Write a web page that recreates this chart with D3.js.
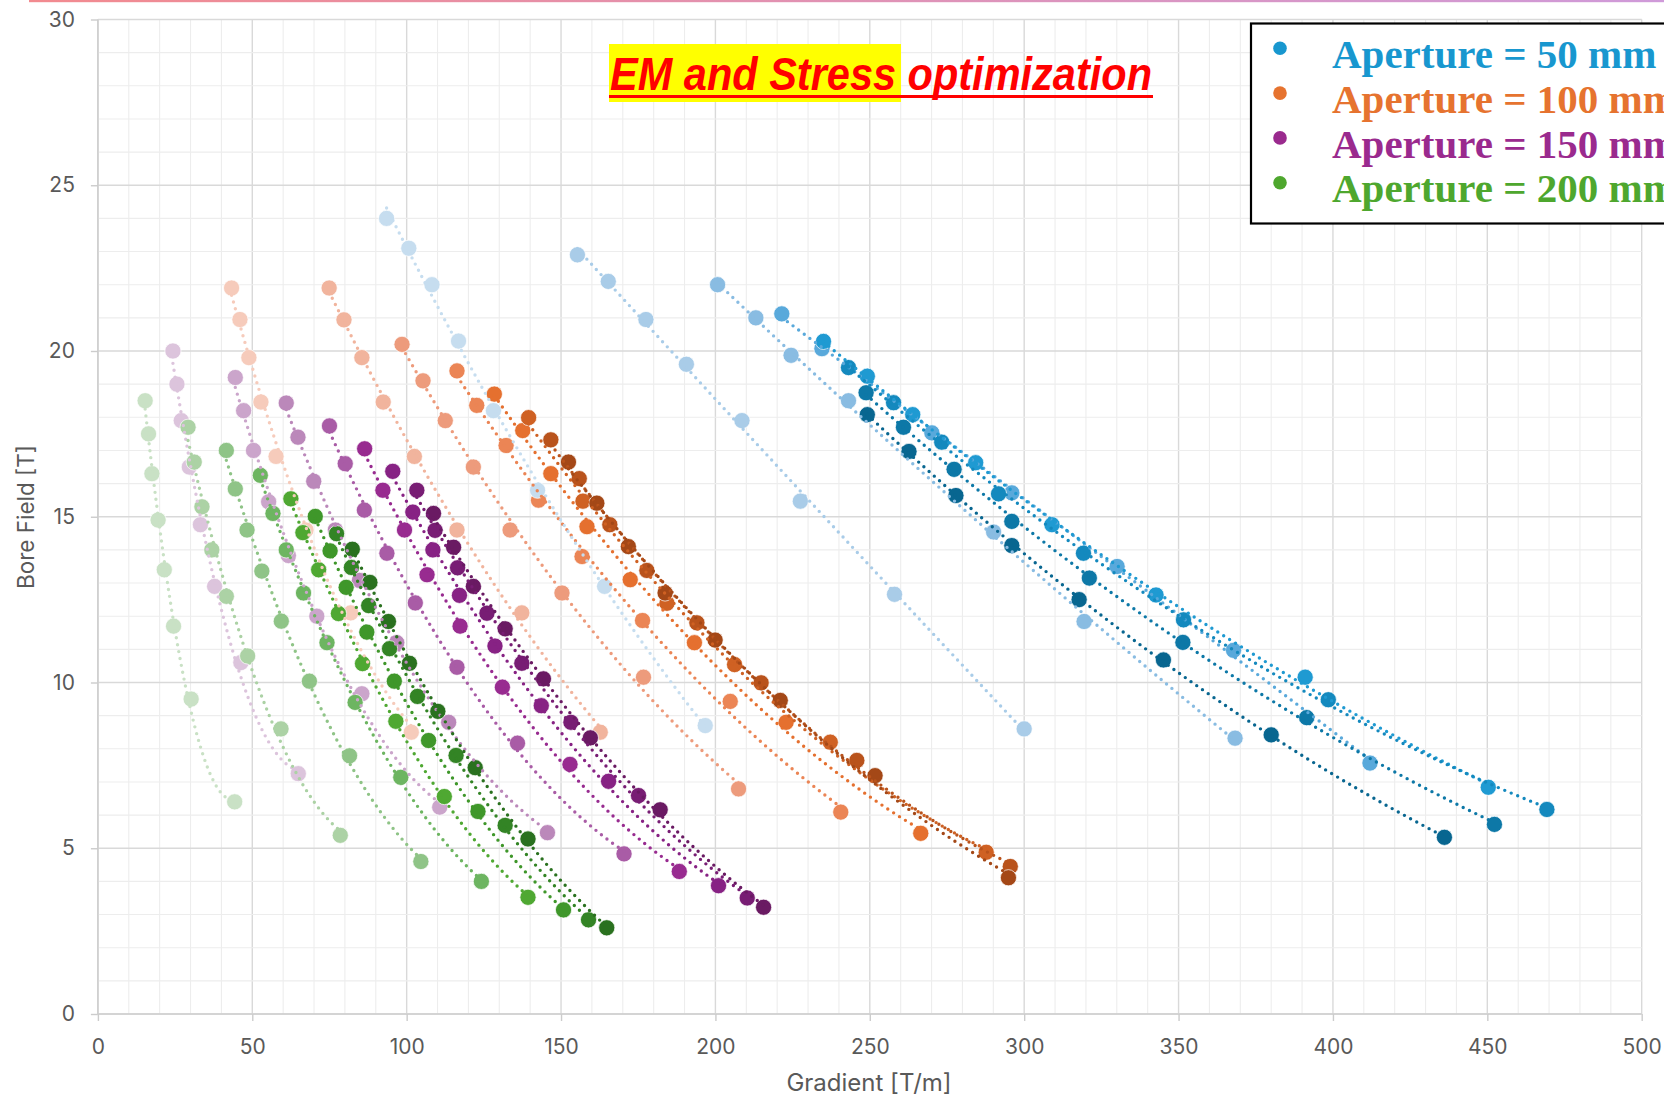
<!DOCTYPE html>
<html>
<head>
<meta charset="utf-8">
<script src="https://cdn.jsdelivr.net/npm/d3@7"></script>
<style>
  body { margin: 0; background: #fff; }
  svg { display: block; }
</style>
</head>
<body>
<svg id="chart" width="1664" height="1096"></svg>
<script>
// Bore field vs. gradient for optimised designs, one family of curves per aperture.
// Each inner array is one design series: [gradient T/m, bore field T].

const legendLabels = ["Aperture = 50 mm", "Aperture = 100 mm", "Aperture = 150 mm", "Aperture = 200 mm"];

const ap50 = [
  [[93.5,24.0],[100.7,23.1],[108.2,22.0],[116.8,20.3],[128.1,18.2],[142.4,15.8],[164.1,12.9],[196.7,8.7]],
  [[155.3,22.9],[165.3,22.1],[177.5,20.95],[190.6,19.6],[208.6,17.9],[227.5,15.47],[258,12.66],[300,8.6]],
  [[200.7,22.0],[213.1,21.0],[224.5,19.87],[243.1,18.5],[290.1,14.54],[319.4,11.84],[368.3,8.32]],
  [[221.5,21.12],[234.5,20.07],[270.1,17.53],[296,15.72],[330.1,13.5],[367.8,10.97],[412,7.57]],
  [[235,20.29],[249.2,19.24],[263.9,18.08],[284.3,16.63],[309,14.76],[342.7,12.64],[391,10.16],[450.3,6.84]],
  [[243.1,19.5],[257.7,18.44],[273.3,17.25],[291.7,15.69],[319.2,13.9],[351.6,11.89],[398.5,9.48],[469.3,6.17]],
  [[248.8,18.74],[260.9,17.7],[277.3,16.43],[296,14.86],[321.1,13.15],[351.4,11.21],[391.5,8.94],[452.3,5.72]],
  [[249.2,18.08],[262.7,16.97],[277.9,15.64],[296,14.13],[317.8,12.5],[345.1,10.68],[380,8.42],[436.1,5.33]]
];

const ap100 = [
  [[43.3,21.9],[46,20.95],[48.9,19.8],[52.8,18.46],[57.7,16.82],[67.4,14.6],[81.9,12.1],[101.5,8.5]],
  [[74.9,21.9],[79.7,20.94],[85.5,19.8],[92.4,18.46],[102.5,16.82],[116.3,14.6],[137.3,12.1],[162.7,8.5]],
  [[98.5,20.2],[105.3,19.1],[112.5,17.9],[121.6,16.5],[133.5,14.6],[150.3,12.7],[176.7,10.16],[207.5,6.79]],
  [[116.3,19.4],[122.7,18.36],[132.2,17.15],[142.7,15.5],[156.8,13.8],[176.4,11.87],[204.8,9.43],[240.6,6.09]],
  [[128.4,18.7],[137.6,17.6],[146.7,16.3],[158.4,14.7],[172.4,13.1],[193.2,11.2],[222.9,8.8],[266.5,5.45]],
  [[139.5,17.99],[157.1,15.47],[184.3,12.39],[206.2,10.54],[237.2,8.2],[287.7,4.88]],
  [[146.7,17.32],[155.9,16.15],[165.8,14.76],[177.8,13.38],[194,11.8],[214.8,9.99],[245.8,7.65],[295.5,4.45]],
  [[152.4,16.65],[161.6,15.41],[171.8,14.1],[183.7,12.7],[199.9,11.28],[221,9.46],[251.7,7.19],[294.9,4.11]]
];

const ap150 = [
  [[24.3,20.0],[25.6,19.0],[27.0,17.9],[29.6,16.5],[33.2,14.76],[37.8,12.9],[46.3,10.6],[64.9,7.25]],
  [[44.5,19.2],[47.2,18.2],[50.4,17.0],[55.3,15.45],[61.7,13.83],[70.9,12.0],[85.5,9.66],[110.7,6.24]],
  [[61.0,18.43],[64.8,17.4],[69.9,16.07],[76.9,14.6],[84.7,13.08],[96.8,11.2],[113.6,8.8],[145.6,5.47]],
  [[75.0,17.74],[80.1,16.6],[86.3,15.2],[93.6,13.9],[102.8,12.4],[116.3,10.46],[135.9,8.17],[170.4,4.83]],
  [[86.4,17.05],[92.3,15.8],[99.3,14.6],[106.6,13.25],[117.3,11.7],[131,9.86],[152.9,7.53],[188.3,4.3]],
  [[95.5,16.37],[102,15.14],[108.5,14.0],[117.1,12.63],[128.6,11.1],[143.6,9.3],[165.4,7.02],[201,3.87]],
  [[103.3,15.8],[109.2,14.59],[116.5,13.46],[126,12.09],[137.3,10.58],[153.2,8.8],[175.1,6.59],[210.3,3.5]],
  [[108.7,15.1],[115.2,14.08],[121.6,12.9],[131.9,11.62],[144.3,10.11],[159.5,8.33],[182.1,6.16],[215.6,3.22]]
];

const ap200 = [
  [[15.3,18.5],[16.4,17.5],[17.5,16.3],[19.5,14.9],[21.5,13.4],[24.5,11.7],[30.2,9.5],[44.3,6.4]],
  [[29.2,17.7],[31.2,16.65],[33.7,15.3],[36.9,14.0],[41.6,12.6],[48.5,10.8],[59.3,8.6],[78.5,5.39]],
  [[41.6,17.0],[44.5,15.84],[48.3,14.6],[53.1,13.36],[59.4,11.85],[68.5,10.04],[81.5,7.79],[104.6,4.6]],
  [[52.6,16.25],[56.7,15.1],[61.0,14.0],[66.6,12.7],[74.2,11.2],[83.3,9.4],[98.1,7.14],[124.2,4.0]],
  [[62.5,15.54],[66.4,14.52],[71.5,13.4],[77.9,12.08],[85.7,10.57],[96.5,8.83],[112.2,6.56],[139.3,3.52]],
  [[70.4,15.01],[75.2,13.97],[80.4,12.87],[87.1,11.52],[96.0,10.04],[107.1,8.25],[123.1,6.11],[150.8,3.14]],
  [[77.3,14.49],[82.1,13.47],[87.7,12.32],[94.45,11.02],[103.5,9.58],[116,7.8],[131.9,5.69],[158.9,2.84]],
  [[82.4,14.02],[88.1,13.02],[94.1,11.84],[100.9,10.58],[110.1,9.13],[122.2,7.43],[139.3,5.28],[164.8,2.6]]
];

const xTicks = [0, 50, 100, 150, 200, 250, 300, 350, 400, 450, 500];
const yTicks = [0, 5, 10, 15, 20, 25, 30];

// Shade ramps, lightest series first
const ap50Colors  = ["#c6ddef","#a9cce8","#89bce2","#59a9db","#1f9ad2","#1489be","#0d78a7","#086690"];
const ap100Colors = ["#f6cbbb","#f1b49d","#ed9b7c","#eb8555","#e5702f","#cf6123","#b9531c","#a44817"];
const ap150Colors = ["#dcc4dc","#cba5cb","#bb88ba","#a95ca6","#982b90","#872284","#781d74","#6a1a63"];
const ap200Colors = ["#c9e1c5","#acd2a5","#8fc487","#6db561","#4fa832","#3f972a","#338425","#2a711f"];
const legendColors = ["#1897cf","#e6732f","#9a2a8e","#4ea72e"];

const svg = d3.select("#chart");
const x = d3.scaleLinear().domain([0, 500]).range([97.9, 1641.7]);
const y = d3.scaleLinear().domain([0, 30]).range([1014, 19.5]);

// thin accent rule along the top edge
const defs = svg.append("defs");
const grad = defs.append("linearGradient").attr("id", "topRule");
grad.append("stop").attr("offset", "0%").attr("stop-color", "#f28a8f");
grad.append("stop").attr("offset", "100%").attr("stop-color", "#cf9ad9");
svg.append("rect").attr("x", 29).attr("y", 0).attr("width", 1635).attr("height", 2.2).attr("fill", "url(#topRule)");

// grid
const grid = svg.append("g");
grid.selectAll(".vminor").data(d3.range(0, 501, 10)).join("line")
  .attr("x1", d => x(d)).attr("x2", d => x(d)).attr("y1", y(0)).attr("y2", y(30))
  .attr("stroke", d => d % 50 === 0 ? "#d9d9d9" : "#ededed")
  .attr("stroke-width", d => d % 50 === 0 ? 1.4 : 1.1);
grid.selectAll(".hminor").data(d3.range(0, 31, 1)).join("line")
  .attr("x1", x(0)).attr("x2", x(500)).attr("y1", d => y(d)).attr("y2", d => y(d))
  .attr("stroke", d => d % 5 === 0 ? "#d9d9d9" : "#ededed")
  .attr("stroke-width", d => d % 5 === 0 ? 1.4 : 1.1);
grid.append("line").attr("x1", x(0)).attr("x2", x(0)).attr("y1", y(0)).attr("y2", y(30))
  .attr("stroke", "#cfcfcf").attr("stroke-width", 1.6);
grid.append("line").attr("x1", x(0)).attr("x2", x(500)).attr("y1", y(0)).attr("y2", y(0))
  .attr("stroke", "#cfcfcf").attr("stroke-width", 1.6);

// axes
const xAxis = svg.append("g").attr("transform", `translate(0,${y(0)})`)
  .call(d3.axisBottom(x).tickValues(xTicks).tickSize(7).tickPadding(18).tickFormat(d3.format("d")));
const yAxis = svg.append("g").attr("transform", `translate(${x(0)},0)`)
  .call(d3.axisLeft(y).tickValues(yTicks).tickSize(7).tickPadding(16).tickFormat(d3.format("d")));
[xAxis, yAxis].forEach(a => {
  a.select(".domain").remove();
  a.selectAll(".tick line").attr("stroke", "#cccccc").attr("stroke-width", 1.4);
  a.selectAll(".tick text").attr("fill", "#595959")
    .style("font-family", "Inter, 'Noto Sans', sans-serif").style("font-size", "21px");
});

svg.append("text").attr("transform", `translate(34,517) rotate(-90)`)
  .attr("text-anchor", "middle").attr("fill", "#595959")
  .style("font-family", "Inter, 'Noto Sans', sans-serif").style("font-size", "22.5px")
  .text("Bore Field [T]");
svg.append("text").attr("x", 869).attr("y", 1091)
  .attr("text-anchor", "middle").attr("fill", "#595959")
  .style("font-family", "Inter, 'Noto Sans', sans-serif").style("font-size", "24px")
  .text("Gradient [T/m]");

// quadratic least-squares trend for a series
function quadFit(pts) {
  const mx = d3.mean(pts, p => p[0]);
  let s0 = 0, s1 = 0, s2 = 0, s3 = 0, s4 = 0, t0 = 0, t1 = 0, t2 = 0;
  pts.forEach(([px, py]) => {
    const u = px - mx;
    s0 += 1; s1 += u; s2 += u*u; s3 += u*u*u; s4 += u*u*u*u;
    t0 += py; t1 += u*py; t2 += u*u*py;
  });
  const det = (m) => m[0][0]*(m[1][1]*m[2][2]-m[1][2]*m[2][1]) - m[0][1]*(m[1][0]*m[2][2]-m[1][2]*m[2][0]) + m[0][2]*(m[1][0]*m[2][1]-m[1][1]*m[2][0]);
  const A = [[s0,s1,s2],[s1,s2,s3],[s2,s3,s4]];
  const b = [t0,t1,t2];
  const D = det(A);
  const coef = [0,1,2].map(k => det(A.map((row, i) => row.map((v, j) => j === k ? b[i] : v))) / D);
  return xv => { const u = xv - mx; return coef[0] + coef[1]*u + coef[2]*u*u; };
}

const families = [
  { data: ap100, colors: ap100Colors },
  { data: ap150, colors: ap150Colors },
  { data: ap50,  colors: ap50Colors },
  { data: ap200, colors: ap200Colors }
];

const markers = svg.append("g");
const trends = svg.append("g");
const line = d3.line().x(d => x(d[0])).y(d => y(d[1]));

families.forEach(fam => {
  fam.data.forEach((series, i) => {
    const col = fam.colors[i];
    markers.append("g").selectAll("circle").data(series).join("circle")
      .attr("cx", d => x(d[0])).attr("cy", d => y(d[1])).attr("r", 8.1)
      .attr("fill", col).attr("stroke", "#ffffff").attr("stroke-width", 0.9).attr("stroke-opacity", 0.8);
    const f = quadFit(series);
    const [x0, x1] = d3.extent(series, d => d[0]);
    const curve = d3.range(0, 81).map(k => { const xv = x0 + (x1 - x0) * k / 80; return [xv, f(xv)]; });
    trends.append("path").attr("d", line(curve)).attr("fill", "none")
      .attr("stroke", col).attr("stroke-width", 3.4)
      .attr("stroke-linecap", "round").attr("stroke-dasharray", "0 7");
  });
});

// headline: highlighted first half, underlined throughout
const head = svg.append("g");
head.append("rect").attr("x", 609).attr("y", 44).attr("width", 292).attr("height", 58).attr("fill", "#ffff00");
head.append("text").attr("x", 610).attr("y", 90)
  .attr("textLength", 542).attr("lengthAdjust", "spacingAndGlyphs")
  .attr("fill", "#ff0000")
  .style("font-family", "'Liberation Sans', Arial, sans-serif")
  .style("font-size", "47px").style("font-weight", "bold").style("font-style", "italic")
  .text("EM and Stress optimization");
head.append("line").attr("x1", 609).attr("x2", 1153).attr("y1", 96.5).attr("y2", 96.5)
  .attr("stroke", "#ff0000").attr("stroke-width", 3);

// legend
const leg = svg.append("g");
leg.append("rect").attr("x", 1251).attr("y", 23.5).attr("width", 460).attr("height", 200)
  .attr("fill", "#ffffff").attr("stroke", "#000000").attr("stroke-width", 2.2);
legendLabels.forEach((lab, i) => {
  leg.append("circle").attr("cx", 1280).attr("cy", 48.3 + i * 44.8).attr("r", 6.8).attr("fill", legendColors[i]);
  leg.append("text").attr("x", 1332).attr("y", 68.3 + i * 44.7)
    .attr("fill", legendColors[i])
    .style("font-family", "'Liberation Serif', 'DejaVu Serif', serif")
    .style("font-size", "41px").style("font-weight", "bold")
    .text(lab);
});
</script>
</body>
</html>
